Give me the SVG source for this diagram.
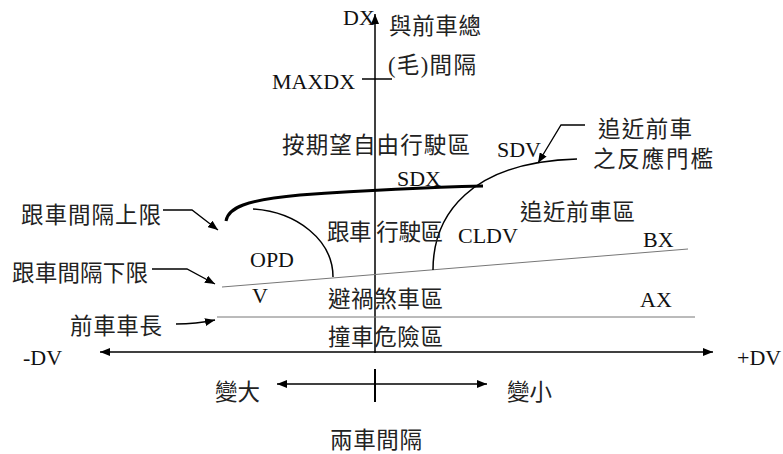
<svg xmlns="http://www.w3.org/2000/svg" width="783" height="454" viewBox="0 0 783 454">
<defs>
<style>
.t{font-family:"Liberation Serif","Noto Sans CJK TC",serif;font-size:22px;fill:#111}
.c{font-family:"Liberation Serif","Noto Sans CJK TC",sans-serif;font-size:22.5px;fill:#222}
.ax{stroke:#000;stroke-width:1.5;fill:none}
.thin{stroke:#777;stroke-width:1;fill:none}
.cv{stroke:#000;stroke-width:1.5;fill:none}
.ptr{stroke:#000;stroke-width:1.3;fill:none}
</style>
<marker id="ah" viewBox="0 0 10 8" refX="10" refY="4" markerWidth="10" markerHeight="8" markerUnits="userSpaceOnUse" orient="auto-start-reverse">
<path d="M0,0 L10,4 L0,8 Z" fill="#000"/>
</marker>
</defs>

<g id="connectors">
<line id="dx-axis" class="ax" x1="375" y1="353" x2="375" y2="14" marker-end="url(#ah)"/>
<line id="maxdx-tick" class="ax" x1="362" y1="79" x2="392" y2="79"/>
<line id="dv-axis" class="ax" x1="100" y1="352" x2="713" y2="352" marker-start="url(#ah)" marker-end="url(#ah)"/>
<line id="bx-line" class="thin" x1="222" y1="287" x2="688" y2="249"/>
<line id="ax-line" class="thin" x1="217" y1="317" x2="695" y2="317"/>
<path id="sdx-curve" d="M226,221 C228,208 245,200 300,195 Q400,188 483,186" stroke="#000" stroke-width="3" fill="none"/>
<path id="opd-curve" class="cv" d="M253,209 C297,212 333,240 333,277"/>
<path id="cldv-curve" class="cv" d="M433,270 C433,215 470,162 577,159"/>
<polyline id="sdv-ptr" class="ptr" points="585,125 561,125 538,163" marker-end="url(#ah)"/>
<polyline id="upper-ptr" class="ptr" points="163,210 192,210 218,230" marker-end="url(#ah)"/>
<polyline id="lower-ptr" class="ptr" points="152,269 187,269 215,284" marker-end="url(#ah)"/>
<path id="len-ptr" class="ptr" d="M176,324 Q196,324 215,320" marker-end="url(#ah)"/>
<line id="gap-axis" class="ax" x1="277" y1="384" x2="487" y2="384" marker-start="url(#ah)" marker-end="url(#ah)"/>
<line id="gap-tick" stroke="#000" stroke-width="2" x1="375" y1="369" x2="375" y2="402"/>
</g>

<g id="n-dx"><text class="t" x="343" y="25">DX</text></g>
<g id="n-total"><text class="c" x="389" y="34" textLength="92" lengthAdjust="spacing">與前車總</text></g>
<g id="n-gross"><text class="c" x="388" y="73" textLength="88" lengthAdjust="spacing">(毛)間隔</text></g>
<g id="n-maxdx"><text class="t" x="272" y="89">MAXDX</text></g>
<g id="n-free"><text class="c" x="282" y="153" textLength="188" lengthAdjust="spacing">按期望自由行駛區</text></g>
<g id="n-sdv"><text class="t" x="497" y="157">SDV</text></g>
<g id="n-thresh"><text class="c" x="598" y="137" textLength="94" lengthAdjust="spacing">追近前車</text><text class="c" x="593" y="167" textLength="120" lengthAdjust="spacing">之反應門檻</text></g>
<g id="n-sdx"><text class="t" x="397" y="186">SDX</text></g>
<g id="n-follow"><text class="c" x="327" y="240" textLength="116" lengthAdjust="spacing">跟車 行駛區</text></g>
<g id="n-approach"><text class="c" x="520" y="220" textLength="115" lengthAdjust="spacing">追近前車區</text></g>
<g id="n-opd"><text class="t" x="250" y="267">OPD</text></g>
<g id="n-cldv"><text class="t" x="458" y="243">CLDV</text></g>
<g id="n-bx"><text class="t" x="643" y="247">BX</text></g>
<g id="n-v"><text class="t" x="252" y="303">V</text></g>
<g id="n-brake"><text class="c" x="328" y="307" textLength="115" lengthAdjust="spacing">避禍煞車區</text></g>
<g id="n-ax"><text class="t" x="640" y="307">AX</text></g>
<g id="n-crash"><text class="c" x="328" y="345" textLength="115" lengthAdjust="spacing">撞車危險區</text></g>
<g id="n-upper"><text class="c" x="21" y="223" textLength="140" lengthAdjust="spacing">跟車間隔上限</text></g>
<g id="n-lower"><text class="c" x="12" y="281" textLength="136" lengthAdjust="spacing">跟車間隔下限</text></g>
<g id="n-len"><text class="c" x="70" y="334" textLength="92" lengthAdjust="spacing">前車車長</text></g>
<g id="n-mdv"><text class="t" x="23" y="365">-DV</text></g>
<g id="n-pdv"><text class="t" x="737" y="365">+DV</text></g>
<g id="n-big"><text class="c" x="215" y="400" textLength="45" lengthAdjust="spacing">變大</text></g>
<g id="n-small"><text class="c" x="507" y="400" textLength="45" lengthAdjust="spacing">變小</text></g>
<g id="n-gap"><text class="c" x="330" y="448" textLength="92" lengthAdjust="spacing">兩車間隔</text></g>
</svg>
